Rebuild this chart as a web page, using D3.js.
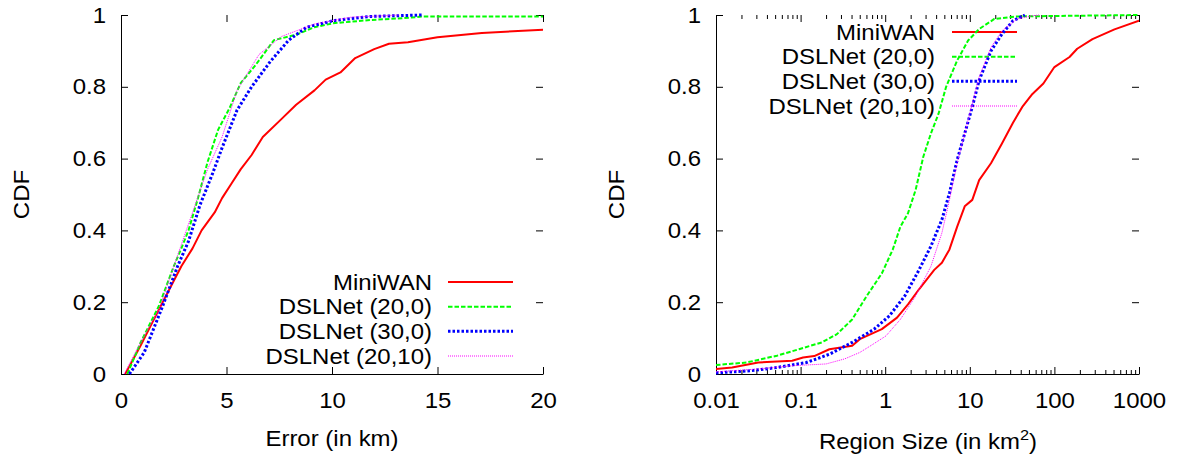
<!DOCTYPE html>
<html>
<head>
<meta charset="utf-8">
<script src="https://cdn.jsdelivr.net/npm/d3@7"></script>
<style>
  html, body { margin: 0; padding: 0; background: #fff; }
  svg { display: block; }
  text { font-family: "Liberation Sans", Arial, Helvetica, sans-serif; fill: #000; }
</style>
</head>
<body>
<svg id="chart" width="1177" height="456"></svg>
<script>
// ---------------- DATA ----------------
const seriesNames = ["MiniWAN", "DSLNet (20,0)", "DSLNet (30,0)", "DSLNet (20,10)"];

// Left panel: CDF of Error (km)  [error, cdf]
const errMiniWAN = [[0.2,0],[0.93,0.079],[1.8,0.18],[2.86,0.30],[3.39,0.35],[3.82,0.40],[4.44,0.45],[4.79,0.49],[5.23,0.53],[5.67,0.57],[6.19,0.61],[6.72,0.66],[7.6,0.71],[8.3,0.75],[9.17,0.79],[9.7,0.82],[10.4,0.84],[11.1,0.88],[12.0,0.905],[12.7,0.92],[13.6,0.924],[15.0,0.938],[17.1,0.95],[20,0.959]];
const errDSL20_0 = [[0.3,0],[0.93,0.088],[1.8,0.19],[2.5,0.30],[2.86,0.35],[3.2,0.40],[3.65,0.49],[4.1,0.59],[4.6,0.68],[5.14,0.74],[5.67,0.81],[6.37,0.86],[7.25,0.93],[8.3,0.945],[9.17,0.966],[10.05,0.977],[11.8,0.986],[13.6,0.992],[14.3,0.996],[20,0.996]];
const errDSL30_0 = [[0.4,0],[1.1,0.06],[1.98,0.19],[2.68,0.30],[3.2,0.37],[3.74,0.47],[4.35,0.56],[4.79,0.63],[5.5,0.735],[6.19,0.80],[7.07,0.87],[7.95,0.93],[8.8,0.966],[10.05,0.984],[11.8,0.996],[14.26,1.0]];
const errDSL20_10 = [[0.15,0],[0.93,0.088],[1.8,0.18],[2.68,0.33],[3.39,0.45],[4.1,0.57],[4.79,0.66],[5.5,0.79],[6.54,0.89],[7.6,0.94],[9.17,0.975],[10.9,0.994],[13.2,1.0]];

// Right panel: CDF of Region Size (km^2)  [size, cdf]
const sizeMiniWAN = [[0.01,0.014],[0.0155,0.018],[0.0316,0.032],[0.0794,0.037],[0.107,0.046],[0.145,0.05],[0.219,0.069],[0.407,0.079],[0.501,0.097],[0.912,0.125],[1.38,0.157],[1.86,0.194],[2.51,0.236],[3.09,0.263],[3.80,0.29],[4.68,0.31],[5.75,0.347],[7.08,0.41],[8.71,0.467],[10.7,0.485],[12.9,0.54],[17.8,0.587],[24.0,0.642],[32.4,0.70],[41.7,0.744],[55.0,0.78],[74.1,0.809],[100,0.855],[151,0.883],[186,0.906],[282,0.933],[513,0.96],[1000,0.984]];
const sizeDSL20_0 = [[0.01,0.025],[0.0229,0.032],[0.0525,0.051],[0.0955,0.069],[0.178,0.088],[0.269,0.111],[0.407,0.152],[0.603,0.217],[0.912,0.28],[1.23,0.347],[1.51,0.41],[1.86,0.448],[2.29,0.513],[2.82,0.605],[3.47,0.67],[4.27,0.725],[5.25,0.80],[7.08,0.873],[9.55,0.929],[12.9,0.961],[19.5,0.989],[36.3,0.996],[1000,1.0]];
const sizeDSL30_0 = [[0.01,0.003],[0.0257,0.009],[0.0525,0.018],[0.117,0.032],[0.219,0.055],[0.407,0.088],[0.741,0.125],[1.12,0.162],[1.70,0.217],[2.51,0.29],[3.47,0.356],[4.68,0.43],[5.75,0.504],[7.08,0.596],[8.71,0.67],[10.7,0.744],[12.9,0.818],[17.8,0.90],[24.0,0.947],[32.4,0.984],[44.7,1.0]];
const sizeDSL20_10 = [[0.01,0.006],[0.0316,0.014],[0.0794,0.023],[0.200,0.028],[0.331,0.042],[0.501,0.06],[0.676,0.079],[1.02,0.106],[1.51,0.152],[2.29,0.217],[3.47,0.30],[4.68,0.393],[5.75,0.485],[7.08,0.587],[8.71,0.67],[10.7,0.753],[12.9,0.827],[17.8,0.91],[24.0,0.956],[36.3,0.989],[55.0,0.998],[67.6,1.0]];

// Ticks / labels
const cdfTicks = [0, 0.2, 0.4, 0.6, 0.8, 1];
const cdfTickLabels = ["0", "0.2", "0.4", "0.6", "0.8", "1"];
const errTicks = [0, 5, 10, 15, 20];
const errTickLabels = ["0", "5", "10", "15", "20"];
const sizeTicks = [0.01, 0.1, 1, 10, 100, 1000];
const sizeTickLabels = ["0.01", "0.1", "1", "10", "100", "1000"];

// ---------------- STYLE ----------------
const colors = ["#ff0000", "#00ff00", "#0000ff", "#ff00ff"];
const widths = [2, 2, 3, 1];
const dashes = [null, "4.5,2", "2.5,2", "1,1"];
const SX = 1.09;       // horizontal glyph stretch of the original rendering
const FS = 22;

const svg = d3.select("#chart");

function stretchText(sel) {
  sel.each(function () {
    const t = d3.select(this);
    const x = +t.attr("x") || 0, y = +t.attr("y") || 0;
    t.attr("x", 0).attr("y", 0).attr("transform", `translate(${x},${y}) scale(${SX},1)`);
  });
}

function panel(opts) {
  const { x0, x1, y0, y1, xScale, xTicks, xLabels, data, legendTop, legendTextX, legendX0, legendX1, yTitleX, id } = opts;
  const y = d3.scaleLinear().domain([0, 1]).range([y1, y0]);
  const x = xScale.range([x0, x1]);
  const g = svg.append("g");

  svg.append("defs").append("clipPath").attr("id", "clip" + id)
    .append("rect").attr("x", x0).attr("y", y0 - 2).attr("width", x1 - x0).attr("height", y1 - y0 + 4);

  const styleAxis = a => {
    a.attr("font-size", FS).attr("font-family", null);
    a.selectAll("line").attr("stroke", "#000");
    a.select(".domain").attr("stroke", "#000");
  };

  const ay = g.append("g").attr("transform", `translate(${x0},0)`)
    .call(d3.axisLeft(y).tickValues(cdfTicks).tickFormat((d, i) => cdfTickLabels[i])
      .tickSizeInner(-7).tickSizeOuter(0).tickPadding(15));
  styleAxis(ay);
  ay.selectAll("text").attr("fill", "#000").call(stretchText);

  const ayr = g.append("g").attr("transform", `translate(${x1},0)`)
    .call(d3.axisRight(y).tickValues(cdfTicks).tickFormat("").tickSizeInner(-7).tickSizeOuter(0));
  styleAxis(ayr); ayr.select(".domain").remove();

  const ax = g.append("g").attr("transform", `translate(0,${y1})`)
    .call(d3.axisBottom(x).tickValues(xTicks).tickFormat((d, i) => xLabels[i])
      .tickSizeInner(-7).tickSizeOuter(0).tickPadding(18));
  styleAxis(ax);
  ax.selectAll("text").attr("fill", "#000").call(stretchText);

  const axt = g.append("g").attr("transform", `translate(0,${y0})`)
    .call(d3.axisTop(x).tickValues(xTicks).tickFormat("").tickSizeInner(-7).tickSizeOuter(0));
  styleAxis(axt); axt.select(".domain").remove();

  if (opts.minor) {
    const minor = x.ticks().filter(v => Math.abs(Math.log10(v) - Math.round(Math.log10(v))) > 1e-6);
    const mb = g.append("g").attr("transform", `translate(0,${y1})`)
      .call(d3.axisBottom(x).tickValues(minor).tickFormat("").tickSizeInner(-4).tickSizeOuter(0));
    styleAxis(mb); mb.select(".domain").remove();
    const mt = g.append("g").attr("transform", `translate(0,${y0})`)
      .call(d3.axisTop(x).tickValues(minor).tickFormat("").tickSizeInner(-4).tickSizeOuter(0));
    styleAxis(mt); mt.select(".domain").remove();
  }

  g.append("text").attr("font-size", FS).attr("text-anchor", "middle").attr("dy", "0.35em")
    .attr("transform", `translate(${yTitleX},${(y0 + y1) / 2}) rotate(-90) scale(${SX},1)`)
    .text("CDF");

  const line = d3.line().x(d => x(d[0])).y(d => y(d[1]));
  data.forEach((s, i) => {
    const ry = legendTop + i * 24.67;
    g.append("text").attr("font-size", FS).attr("text-anchor", "end").attr("dy", "0.35em")
      .attr("transform", `translate(${legendTextX},${ry}) scale(${SX},1)`).text(seriesNames[i]);
    g.append("line").attr("x1", legendX0).attr("x2", legendX1).attr("y1", ry).attr("y2", ry)
      .attr("stroke", colors[i]).attr("stroke-width", widths[i]).attr("stroke-dasharray", dashes[i]);
    g.append("path").datum(s).attr("d", line).attr("fill", "none")
      .attr("clip-path", `url(#clip${id})`)
      .attr("stroke", colors[i]).attr("stroke-width", widths[i]).attr("stroke-dasharray", dashes[i])
      .attr("stroke-linejoin", "round");
  });
  return g;
}

const gl = panel({
  id: "L", x0: 121, x1: 543, y0: 15, y1: 374,
  xScale: d3.scaleLinear().domain([0, 20]), xTicks: errTicks, xLabels: errTickLabels,
  data: [errMiniWAN, errDSL20_0, errDSL30_0, errDSL20_10],
  legendTop: 282, legendTextX: 432, legendX0: 448, legendX1: 513, yTitleX: 21
});
gl.append("text").attr("font-size", FS).attr("text-anchor", "middle")
  .attr("transform", `translate(332,446) scale(${SX},1)`).text("Error (in km)");

const gr = panel({
  id: "R", x0: 716, x1: 1139, y0: 15, y1: 374, minor: true,
  xScale: d3.scaleLog().domain([0.01, 1000]), xTicks: sizeTicks, xLabels: sizeTickLabels,
  data: [sizeMiniWAN, sizeDSL20_0, sizeDSL30_0, sizeDSL20_10],
  legendTop: 32, legendTextX: 935, legendX0: 952, legendX1: 1017, yTitleX: 616
});
const rt = gr.append("text").attr("font-size", FS).attr("text-anchor", "middle")
  .attr("transform", `translate(928,449) scale(${SX},1)`);
rt.append("tspan").text("Region Size (in km");
rt.append("tspan").attr("font-size", 15).attr("dy", -9).text("2");
rt.append("tspan").attr("dy", 9).text(")");
</script>
</body>
</html>
